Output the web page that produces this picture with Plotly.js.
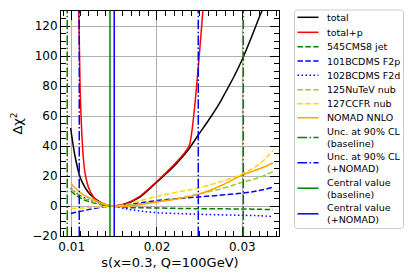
<!DOCTYPE html>
<html>
<head>
<meta charset="utf-8">
<script src="https://cdn.plot.ly/plotly-3.0.1.min.js"></script>
<style>html,body{margin:0;padding:0;background:#fff;}#chart{width:420px;height:280px;}</style>
</head>
<body>
<div id="chart"></div>
<script>
// ---- data ----
const sGrid   = [0.0099, 0.0105, 0.0115, 0.0125, 0.0135, 0.0147, 0.0163, 0.018, 0.020, 0.0224, 0.0248, 0.0276, 0.0301, 0.032, 0.0336];
const cms8    = [10, 7.2, 4, 2.2, 0.9, 0, -1, -1.2, -1.3, -1.6, -1.8, -1.9, -2, -2.2, -2.4];
const f2p     = [-5, -4.2, -3, -1.8, -0.8, 0, 0.8, 2, 3.6, 4.9, 6, 7.3, 8.7, 10.3, 12.5];
const f2d     = [12, 9, 5.5, 3, 1.2, 0, -1.8, -3.3, -4.5, -5, -5.5, -5.9, -6.2, -6.5, -7];
const nutev   = [11.6, 8.5, 4.9, 2.8, 1.3, 0, 0.3, 1.5, 3, 5, 8, 11.6, 16, 19, 23];
const ccfr    = [-1.7, -1.5, -1.3, -1, -0.5, 0, 0.8, 3.5, 6.5, 9.3, 12, 16.4, 21.6, 28, 37];
const nomad   = [15, 11.5, 7.1, 4.3, 2, 0, -0.4, 0.8, 2.7, 4.9, 7.6, 13.8, 20.9, 24.8, 28.7];

const sTotal  = [0.00988, 0.0104, 0.0110, 0.0116, 0.0122, 0.0133, 0.0145, 0.016, 0.018, 0.020, 0.0219, 0.0231, 0.0238, 0.0248, 0.0262, 0.0274, 0.028, 0.029, 0.030, 0.031, 0.032, 0.0326];
const total   = [52, 33, 19, 12, 7.5, 2.7, 0, 0.8, 6, 16, 26, 33.5, 38.5, 47, 58.5, 69.3, 75.5, 86, 97.8, 111.5, 126, 134];

const sTotalP = [0.0108, 0.0110, 0.0112, 0.0114, 0.0116, 0.0120, 0.0125, 0.0133, 0.0141, 0.0149, 0.0163, 0.018, 0.020, 0.0219, 0.0231, 0.0238, 0.0254];
const totalP  = [140, 75, 47, 30, 21, 12, 6.5, 1.8, 0.3, 0, 1.6, 6.5, 16.5, 27, 34.5, 40.5, 132];

const uncBase      = [0.00948, 0.03012];
const uncNomad     = [0.01089, 0.02484];
const centralBase  = [0.01449];
const centralNomad = [0.01499];

const xRange = [0.00875, 0.0343];
const yRange = [-20, 130];

const legendLabels = ['total', 'total+p', '545CMS8 jet', '101BCDMS F2p', '102BCDMS F2d', '125NuTeV nub', '127CCFR nub', 'NOMAD NNLO',
  'Unc. at 90% CL<br>(baseline)', 'Unc. at 90% CL<br>(+NOMAD)', 'Central value<br>(baseline)', 'Central value<br>(+NOMAD)'];
const xTitle = 's(x=0.3, Q=100GeV)';
const yTitle = 'Δχ<sup>2</sup>';

// ---- styles ----
const C = {k:'#000000', r:'#ff0000', g:'#008000', b:'#0000ff', yg:'#9acd32', gold:'#ffd700', o:'#ffa500'};
const DASH = '5.5px,2.4px', DOT = '1.5px,2.5px', DASHDOT = '9.6px,2.4px,1.5px,2.4px';
const LW = 1.5;
const styles = [
  {color:C.k, dash:'solid'}, {color:C.r, dash:'solid'}, {color:C.g, dash:DASH}, {color:C.b, dash:DASH},
  {color:C.b, dash:DOT}, {color:C.yg, dash:DASH}, {color:C.gold, dash:DASH}, {color:C.o, dash:'solid'},
  {color:C.g, dash:DASHDOT}, {color:C.b, dash:DASHDOT}, {color:C.g, dash:'solid'}, {color:C.b, dash:'solid'}
];

function curve(x, y, st, smooth) {
  return {x:x, y:y, type:'scatter', mode:'lines', showlegend:false, hoverinfo:'skip',
    line:{color:st.color, dash:st.dash, width:LW, shape:'spline', smoothing: smooth === undefined ? 1 : smooth}};
}

const traces = [
  curve(sTotal, total, styles[0], 0.9),
  curve(sTotalP, totalP, styles[1], 0.6),
  curve(sGrid, cms8, styles[2]),
  curve(sGrid, f2p, styles[3]),
  curve(sGrid, f2d, styles[4]),
  curve(sGrid, nutev, styles[5]),
  curve(sGrid, ccfr, styles[6]),
  curve(sGrid, nomad, styles[7])
];

const shapes = [];
function vlines(xs, st) {
  xs.forEach(v => shapes.push({type:'line', xref:'x', yref:'paper', x0:v, x1:v, y0:0, y1:1, layer:'above',
    line:{color:st.color, dash:st.dash, width:LW}}));
}
vlines(uncBase, styles[8]);
vlines(uncNomad, styles[9]);
vlines(centralBase, styles[10]);
vlines(centralNomad, styles[11]);

// ---- legend (drawn to match matplotlib spacing) ----
const M = {l:61, r:141, t:11, b:44};
const W = 420, H = 280;
const pw = W - M.l - M.r, ph = H - M.t - M.b;
const px2x = p => (p - M.l) / pw;
const py2y = p => (H - M.b - p) / ph;

const bx0 = px2x(294.5), bx1 = px2x(403.5), by0 = py2y(228.5), by1 = py2y(10);
const rx = 3 / pw, ry = 3 / ph;
shapes.push({type:'path', xref:'paper', yref:'paper', layer:'above',
  path: `M ${bx0+rx},${by1} L ${bx1-rx},${by1} Q ${bx1},${by1} ${bx1},${by1-ry} L ${bx1},${by0+ry} Q ${bx1},${by0} ${bx1-rx},${by0} L ${bx0+rx},${by0} Q ${bx0},${by0} ${bx0},${by0+ry} L ${bx0},${by1-ry} Q ${bx0},${by1} ${bx0+rx},${by1} Z`,
  fillcolor:'rgba(255,255,255,0.8)', line:{color:'#cccccc', width:1}});

const legY = [17.3, 32.3, 46.7, 61, 75.3, 89.7, 103.7, 117.7, 137.5, 162.7, 188.2, 213.8];
const annotations = [];
legendLabels.forEach((lab, i) => {
  const st = styles[i];
  shapes.push({type:'line', xref:'paper', yref:'paper', layer:'above',
    x0:px2x(297.5), x1:px2x(318.5), y0:py2y(legY[i]), y1:py2y(legY[i]),
    line:{color:st.color, dash:st.dash, width:LW}});
  annotations.push({xref:'paper', yref:'paper', x:px2x(325), y:py2y(legY[i]), xanchor:'left', yanchor:'middle',
    align:'left', showarrow:false, text:lab, font:{family:'DejaVu Sans', size:9.5, color:'#000'}});
});

const axisCommon = {
  showline:true, linecolor:'#000', linewidth:1, mirror:'allticks',
  ticks:'inside', ticklen:9, tickwidth:1, tickcolor:'#000',
  showgrid:true, gridcolor:'#b0b0b0', gridwidth:1, zeroline:false,
  tickfont:{family:'DejaVu Sans', size:12, color:'#000'}
};

const layout = {
  width:W, height:H, margin:M, paper_bgcolor:'#fff', plot_bgcolor:'#fff',
  font:{family:'DejaVu Sans', color:'#000'},
  showlegend:false,
  xaxis: Object.assign({}, axisCommon, {
    range:xRange, tick0:0, dtick:0.01,
    minor:{dtick:0.001, ticks:'inside', ticklen:5, tickcolor:'#000', tickwidth:1, showgrid:false},
    title:{text:xTitle, font:{family:'DejaVu Sans', size:13, color:'#000'}, standoff:4}
  }),
  yaxis: Object.assign({}, axisCommon, {
    range:yRange, tick0:0, dtick:20,
    minor:{dtick:5, ticks:'inside', ticklen:5, tickcolor:'#000', tickwidth:1, showgrid:false},
    title:{text:yTitle, font:{family:'DejaVu Sans', size:13, color:'#000'}, standoff:6}
  }),
  shapes:shapes,
  annotations:annotations
};

Plotly.newPlot('chart', traces, layout, {staticPlot:true, displayModeBar:false});
</script>
</body>
</html>
